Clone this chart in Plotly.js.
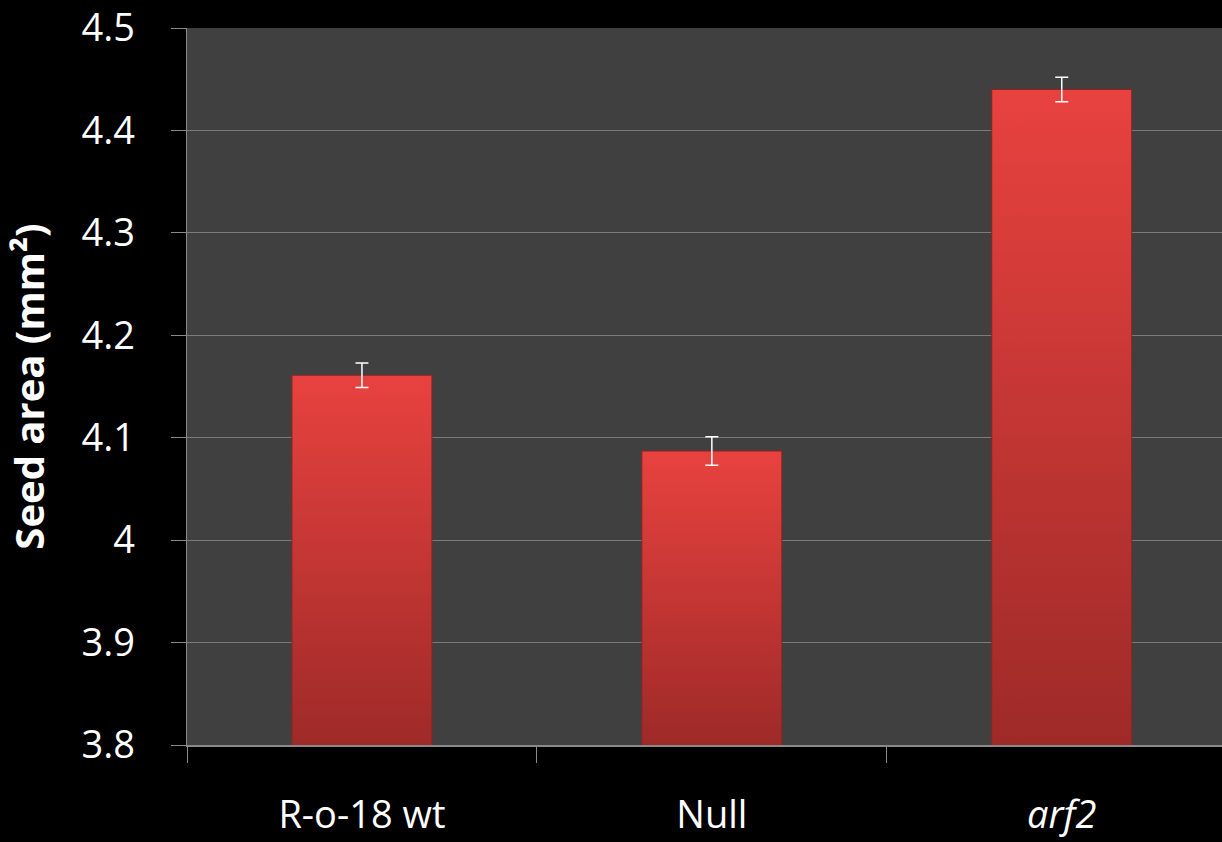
<!DOCTYPE html>
<html>
<head>
<meta charset="utf-8">
<script src="https://cdn.plot.ly/plotly-3.0.1.min.js"></script>
<style>
  html, body { margin: 0; padding: 0; background: #000; }
  #chart { width: 1222px; height: 842px; }
</style>
</head>
<body>
<div id="chart"></div>
<script>
const categories = ["R-o-18 wt", "Null", "arf2"];
const tickLabels = ["R-o-18 wt", "Null", "<i>arf2</i>"];
const seedArea = [4.161, 4.087, 4.440];
const seedAreaErr = [0.012, 0.014, 0.012];
const yTicks = [3.8, 3.9, 4.0, 4.1, 4.2, 4.3, 4.4, 4.5];

const trace = {
  type: "bar",
  x: categories,
  y: seedArea,
  width: 0.40,
  marker: { color: "#c73532", line: { color: "#8a2422", width: 1 } },
  error_y: { type: "data", array: seedAreaErr, visible: true, color: "#ffffff", thickness: 1.5, width: 6.5 },
  hoverinfo: "none"
};

const layout = {
  width: 1222, height: 842,
  paper_bgcolor: "#000000",
  plot_bgcolor: "#404040",
  margin: { l: 187, r: 0, t: 28, b: 97, pad: 0 },
  showlegend: false,
  font: { family: "Open Sans, sans-serif", color: "#ffffff" },
  xaxis: {
    type: "category",
    range: [-0.5, 2.458],
    tickmode: "array",
    tickvals: categories,
    ticktext: tickLabels,
    tickson: "boundaries",
    ticks: "outside",
    ticklen: 16,
    tickwidth: 1,
    tickcolor: "#8a8a8a",
    ticklabelstandoff: 36,
    showline: true,
    linecolor: "#8a8a8a",
    linewidth: 1.5,
    showgrid: false,
    zeroline: false,
    tickfont: { family: "Open Sans, sans-serif", size: 38, color: "#ffffff" }
  },
  yaxis: {
    range: [3.8, 4.5],
    tickmode: "array",
    tickvals: yTicks,
    ticktext: yTicks.map(v => String(v)),
    ticks: "outside",
    ticklen: 15,
    tickwidth: 1,
    tickcolor: "#8a8a8a",
    ticklabelstandoff: 28,
    showline: true,
    linecolor: "#8a8a8a",
    linewidth: 1.5,
    showgrid: true,
    gridcolor: "#7a7a7a",
    gridwidth: 1,
    zeroline: false,
    tickfont: { family: "Open Sans, sans-serif", size: 38, color: "#ffffff" },
    title: {
      text: "Seed area (mm²)",
      standoff: 24,
      font: { family: "Open Sans, sans-serif", size: 40, color: "#ffffff", weight: "bold" }
    }
  }
};

Plotly.newPlot("chart", [trace], layout, { displayModeBar: false, staticPlot: true }).then(gd => {
  // vertical gradient fill for the visible part of each bar (style only)
  const svg = gd.querySelector(".main-svg");
  const ns = "http://www.w3.org/2000/svg";
  let defs = svg.querySelector("defs");
  if (!defs) { defs = document.createElementNS(ns, "defs"); svg.insertBefore(defs, svg.firstChild); }
  const plotH = gd._fullLayout._size.h;
  gd.querySelectorAll(".barlayer .point path").forEach((p, i) => {
    const bb = p.getBBox();
    const top = Math.max(bb.y, 0);
    const bottom = Math.min(bb.y + bb.height, plotH);
    const grad = document.createElementNS(ns, "linearGradient");
    grad.setAttribute("id", "barGrad" + i);
    grad.setAttribute("gradientUnits", "userSpaceOnUse");
    grad.setAttribute("x1", "0"); grad.setAttribute("y1", String(top));
    grad.setAttribute("x2", "0"); grad.setAttribute("y2", String(bottom));
    [["0", "#e8423f"], ["1", "#9e2a28"]].forEach(([o, c]) => {
      const s = document.createElementNS(ns, "stop");
      s.setAttribute("offset", o); s.setAttribute("stop-color", c);
      grad.appendChild(s);
    });
    defs.appendChild(grad);
    p.style.fill = "url(#barGrad" + i + ")";
  });
});
</script>
</body>
</html>
